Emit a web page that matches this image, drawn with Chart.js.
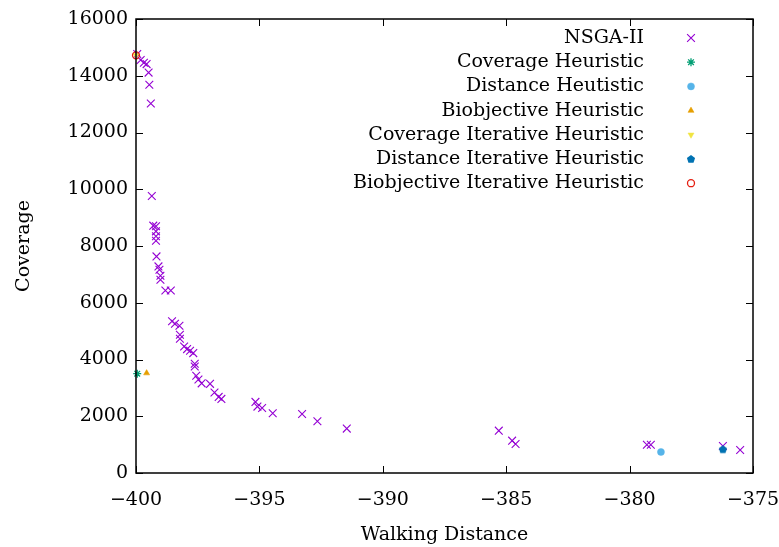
<!DOCTYPE html>
<html>
<head>
<meta charset="utf-8">
<script src="https://cdn.jsdelivr.net/npm/chart.js@4/dist/chart.umd.min.js"></script>
<style>
html,body{margin:0;padding:0;background:#fff;}
</style>
</head>
<body>
<canvas id="front" width="779" height="547"></canvas>
<script>
(function(){
	'use strict';

	// NSGA-II front
	var nsgaX = [-399.95, -399.81, -399.68, -399.57, -399.49, -399.46, -399.40, -399.36, -399.30, -399.19,
		-399.19, -399.19, -399.19, -399.17, -399.09, -399.05, -399.01, -399.01, -398.81, -398.59,
		-398.54, -398.42, -398.24, -398.22, -398.22, -398.05, -397.93, -397.81, -397.68, -397.62,
		-397.62, -397.56, -397.47, -397.34, -397.00, -396.82, -396.65, -396.54, -395.16, -395.08,
		-394.89, -394.46, -393.27, -392.65, -391.46, -385.30, -384.76, -384.62, -379.30, -379.14,
		-376.22, -375.52];
	var nsgaY = [14764, 14552, 14460, 14410, 14111, 13684, 13024, 9759, 8718, 8693,
		8516, 8347, 8188, 7634, 7281, 7165, 6953, 6812, 6434, 6434,
		5347, 5259, 5188, 4871, 4729, 4458, 4366, 4306, 4225, 3847,
		3752, 3424, 3293, 3159, 3141, 2834, 2682, 2612, 2506, 2340,
		2294, 2107, 2082, 1825, 1564, 1493, 1140, 1024, 999, 999,
		953, 812];

	// one point per heuristic
	var heurNames = ['Coverage Heuristic', 'Distance Heutistic', 'Biobjective Heuristic',
		'Coverage Iterative Heuristic', 'Distance Iterative Heuristic', 'Biobjective Iterative Heuristic'];
	var heurX = [-399.95, -378.73, -399.57, -400, -376.22, -400];
	var heurY = [3500, 741, 3520, 14720, 836, 14720];

	var xTicks = [-400, -395, -390, -385, -380, -375];
	var yTicks = [0, 2000, 4000, 6000, 8000, 10000, 12000, 14000, 16000];

	// gnuplot-ish pentagon marker
	function pentagon(color){
		var c = document.createElement('canvas');
		c.width = 10; c.height = 10;
		var g = c.getContext('2d');
		g.fillStyle = color;
		g.beginPath();
		for(var k=0;k<5;k++){
			var a = -Math.PI/2 + k*2*Math.PI/5;
			g.lineTo(5+4.3*Math.cos(a), 5.3+4.3*Math.sin(a));
		}
		g.closePath();
		g.fill();
		return c;
	}

	var heurStyle = [
		{c:'#009e73', s:'star', r:4, fill:false},
		{c:'#56b4e9', s:'circle', r:3.5, fill:true},
		{c:'#e69f00', s:'triangle', r:3.5, fill:true},
		{c:'#f0e442', s:'triangle', r:3.5, fill:true, rot:180},
		{c:'#0072b2', s:pentagon('#0072b2'), r:4, fill:true},
		{c:'#e51e10', s:'circle', r:3.5, fill:false}
	];

	var datasets = [{
		label:'NSGA-II',
		data:nsgaX.map(function(x,i){ return {x:x, y:nsgaY[i]}; }),
		pointStyle:'crossRot',
		pointRadius:5.5,
		borderColor:'#9400d3',
		backgroundColor:'#9400d3',
		borderWidth:1.1,
		order:7,
		clip:false
	}];

	heurNames.forEach(function(name,i){
		var st = heurStyle[i];
		datasets.push({
			label:name,
			data:[{x:heurX[i], y:heurY[i]}],
			pointStyle:st.s,
			pointRadius:st.r,
			pointRotation:st.rot || 0,
			borderColor:st.c,
			backgroundColor:st.fill ? st.c : 'rgba(0,0,0,0)',
			borderWidth:st.fill ? 0.5 : 1.3,
			order:6-i,
			clip:false
		});
	});

	var framePlugin = {
		id:'frame',
		afterDatasetsDraw:function(chart){
			var a = chart.chartArea, ctx = chart.ctx;
			var xs = chart.scales.x, ys = chart.scales.y;
			ctx.save();
			ctx.strokeStyle = '#000';
			ctx.lineWidth = 1;
			ctx.beginPath();
			xs.ticks.forEach(function(t){
				var px = Math.round(xs.getPixelForValue(t.value))+0.5;
				ctx.moveTo(px, a.bottom); ctx.lineTo(px, a.bottom-7);
				ctx.moveTo(px, a.top); ctx.lineTo(px, a.top+7);
			});
			ys.ticks.forEach(function(t){
				var py = Math.round(ys.getPixelForValue(t.value))+0.5;
				ctx.moveTo(a.left, py); ctx.lineTo(a.left+7, py);
				ctx.moveTo(a.right, py); ctx.lineTo(a.right-7, py);
			});
			ctx.stroke();
			ctx.lineWidth = 1.5;
			ctx.strokeRect(a.left, a.top, a.right-a.left, a.bottom-a.top);
			ctx.restore();
		}
	};

	var keyPlugin = {
		id:'key',
		afterDraw:function(chart){
			var ctx = chart.ctx;
			ctx.save();
			ctx.font = '19px "DejaVu Serif"';
			ctx.textAlign = 'right';
			ctx.textBaseline = 'middle';
			chart.data.datasets.forEach(function(ds,i){
				var y = 38 + i*24.2;
				ctx.fillStyle = '#000';
				ctx.fillText(ds.label, 644, y);
				ctx.fillStyle = ds.backgroundColor;
				ctx.strokeStyle = ds.borderColor;
				ctx.lineWidth = ds.borderWidth;
				Chart.helpers.drawPoint(ctx, {
					pointStyle:ds.pointStyle,
					radius:ds.pointRadius,
					rotation:ds.pointRotation || 0,
					borderWidth:ds.borderWidth
				}, 691, y);
			});
			ctx.restore();
		}
	};

	Chart.defaults.font.family = '"DejaVu Serif"';
	Chart.defaults.font.size = 19;
	Chart.defaults.color = '#000';

	new Chart(document.getElementById('front'),{
		type:'scatter',
		data:{datasets:datasets},
		plugins:[framePlugin, keyPlugin],
		options:{
			responsive:false,
			animation:false,
			layout:{padding:{left:0, right:26, top:19, bottom:0}},
			plugins:{legend:{display:false}, tooltip:{enabled:false}},
			scales:{
				x:{
					type:'linear',
					min:xTicks[0],
					max:xTicks[xTicks.length-1],
					afterBuildTicks:function(s){ s.ticks = xTicks.map(function(v){ return {value:v}; }); },
					afterFit:function(s){ s.height = 74; s.paddingLeft = 0; s.paddingRight = 0; },
					grid:{display:false, drawTicks:false},
					border:{display:false},
					ticks:{
						padding:16,
						maxRotation:0,
						callback:function(v){ return v < 0 ? '\u2212' + Math.abs(v) : String(v); }
					},
					title:{display:true, text:'Walking Distance', padding:{top:0, bottom:1}}
				},
				y:{
					type:'linear',
					min:yTicks[0],
					max:yTicks[yTicks.length-1],
					afterBuildTicks:function(s){ s.ticks = yTicks.map(function(v){ return {value:v}; }); },
					afterFit:function(s){ s.width = 136; s.paddingTop = 0; s.paddingBottom = 0; },
					grid:{display:false, drawTicks:false},
					border:{display:false},
					ticks:{
						padding:8,
						callback:function(v){ return String(v); }
					},
					title:{display:true, text:'Coverage', padding:{top:13, bottom:0}}
				}
			}
		}
	});
})();
</script>
</body>
</html>
